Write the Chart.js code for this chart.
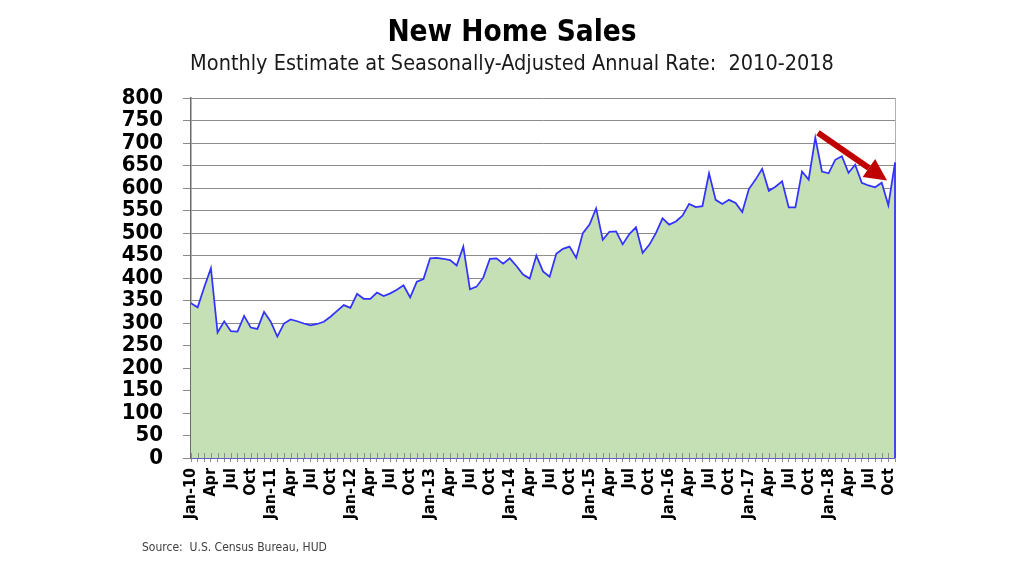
<!DOCTYPE html>
<html>
<head>
<meta charset="utf-8">
<title>New Home Sales</title>
<script src="https://cdn.jsdelivr.net/npm/chart.js@4.4.1/dist/chart.umd.min.js"></script>
<style>
  html, body { margin: 0; padding: 0; background: #fff; }
  #wrap { width: 1024px; height: 576px; position: relative; }
</style>
</head>
<body>
<div id="wrap"><canvas id="salesChart"></canvas></div>
<script>
// Category axis: Jan-10 .. Nov-18 (monthly)
const years = ['10', '11', '12', '13', '14', '15', '16', '17', '18'];
const monthNames = ['Jan', 'Feb', 'Mar', 'Apr', 'May', 'Jun', 'Jul', 'Aug', 'Sep', 'Oct', 'Nov', 'Dec'];
const monthsInLastYear = 11;

// Tick labels shown under the axis (every quarter)
const labelledMonths = ['Jan', 'Apr', 'Jul', 'Oct'];

// New home sales, thousands, SAAR
const sales2010 = [344, 335, 380, 422, 279, 304, 282, 281, 316, 290, 287, 325];
const sales2011 = [303, 270, 299, 308, 304, 299, 295, 298, 303, 314, 327, 340];
const sales2012 = [334, 365, 354, 354, 368, 360, 366, 374, 384, 357, 392, 398];
const sales2013 = [444, 445, 443, 440, 428, 470, 375, 381, 401, 443, 444, 432];
const sales2014 = [444, 427, 408, 399, 450, 415, 403, 454, 465, 470, 445, 500];
const sales2015 = [519, 555, 485, 503, 504, 475, 498, 513, 456, 474, 500, 533];
const sales2016 = [519, 526, 539, 565, 558, 560, 633, 574, 565, 574, 567, 547];
const sales2017 = [598, 619, 643, 594, 603, 615, 557, 557, 637, 619, 712, 637];
const sales2018 = [633, 663, 671, 634, 652, 612, 606, 602, 612, 562, 657];

const yTicks = { min: 0, max: 800, step: 50 };

// Trend arrow, in data units (x = month index, y = sales)
const trendArrow = { fromX: 94.4, fromY: 723, toX: 104.8, toY: 617 };

const categories = [];
years.forEach((yr, yi) => {
    const n = yi === years.length - 1 ? monthsInLastYear : 12;
    for (let m = 0; m < n; m++) {
        categories.push({ month: monthNames[m], year: yr });
    }
});
const labels = categories.map(c => c.month + '-' + c.year);
const sales = [].concat(sales2010, sales2011, sales2012, sales2013, sales2014,
    sales2015, sales2016, sales2017, sales2018);

const FONT = 'DejaVu Sans Condensed';
Chart.defaults.font.family = FONT;

// blue outline of the area down to the baseline + ticks crossing the x axis
const areaEdges = {
    id: 'areaEdges',
    afterDatasetsDraw(chart) {
        const { ctx, scales } = chart;
        const meta = chart.getDatasetMeta(0);
        const last = meta.data[meta.data.length - 1];
        const base = scales.y.getPixelForValue(0);
        ctx.save();
        ctx.strokeStyle = '#8c8c8c';
        ctx.lineWidth = 1;
        scales.x.ticks.forEach((t, i) => {
            const x = Math.round(scales.x.getPixelForTick(i)) + 0.5;
            ctx.beginPath();
            ctx.moveTo(x, base - 5);
            ctx.lineTo(x, base);
            ctx.stroke();
        });
        ctx.strokeStyle = '#3333ff';
        ctx.lineWidth = 1.75;
        ctx.beginPath();
        ctx.moveTo(last.x, last.y);
        ctx.lineTo(last.x, base);
        ctx.stroke();
        ctx.restore();
    }
};

const arrowPlugin = {
    id: 'trendArrow',
    afterDatasetsDraw(chart) {
        const { ctx, scales } = chart;
        const x1 = scales.x.getPixelForValue(trendArrow.fromX);
        const y1 = scales.y.getPixelForValue(trendArrow.fromY);
        const x2 = scales.x.getPixelForValue(trendArrow.toX);
        const y2 = scales.y.getPixelForValue(trendArrow.toY);
        const ang = Math.atan2(y2 - y1, x2 - x1);
        const headLen = 22, headW = 11;
        const bx = x2 - headLen * Math.cos(ang);
        const by = y2 - headLen * Math.sin(ang);
        ctx.save();
        ctx.strokeStyle = '#c00000';
        ctx.fillStyle = '#c00000';
        ctx.lineWidth = 6;
        ctx.beginPath();
        ctx.moveTo(x1, y1);
        ctx.lineTo(bx, by);
        ctx.stroke();
        ctx.beginPath();
        ctx.moveTo(x2, y2);
        ctx.lineTo(bx + headW * Math.sin(ang), by - headW * Math.cos(ang));
        ctx.lineTo(bx - headW * Math.sin(ang), by + headW * Math.cos(ang));
        ctx.closePath();
        ctx.fill();
        ctx.restore();
    }
};

const sourceNote = {
    id: 'sourceNote',
    afterDraw(chart) {
        const { ctx } = chart;
        ctx.save();
        ctx.font = '12px "' + FONT + '"';
        ctx.fillStyle = '#404040';
        ctx.textBaseline = 'middle';
        ctx.textAlign = 'left';
        ctx.fillText('Source:  U.S. Census Bureau, HUD', 142, 548);
        ctx.restore();
    }
};

const ctx = document.getElementById('salesChart');
new Chart(ctx, {
    type: 'line',
    data: {
        labels: labels,
        datasets: [{
            label: 'New Home Sales',
            data: sales,
            borderColor: '#3333ff',
            backgroundColor: '#c5e0b4',
            borderWidth: 1.75,
            fill: 'origin',
            tension: 0,
            pointRadius: 0
        }]
    },
    options: {
        responsive: true,
        maintainAspectRatio: false,
        animation: false,
        layout: { padding: 0 },
        scales: {
            x: {
                ticks: {
                    autoSkip: false,
                    maxRotation: 90,
                    minRotation: 90,
                    padding: 6,
                    color: '#000',
                    font: { size: 16, weight: 'bold' },
                    callback: function(value, index) {
                        const c = categories[index];
                        if (!labelledMonths.includes(c.month)) return '';
                        return c.month === 'Jan' ? c.month + '-' + c.year : c.month;
                    }
                },
                grid: { drawOnChartArea: false, tickLength: 4, color: '#8c8c8c' },
                border: { color: '#3333ff', width: 1.5 },
                afterFit: function(scale) { scale.height = 118; }
            },
            y: {
                min: yTicks.min,
                max: yTicks.max,
                ticks: {
                    stepSize: yTicks.step,
                    autoSkip: false,
                    padding: 20,
                    color: '#000',
                    font: { size: 22, weight: 'bold' }
                },
                grid: { color: '#8c8c8c', lineWidth: 1, tickLength: 8 },
                border: { color: '#6b6b6b', width: 1.5 },
                afterFit: function(scale) { scale.width = 191; }
            },
            // empty right-hand axis: gives the plot frame and the right margin
            yRight: {
                position: 'right',
                min: yTicks.min,
                max: yTicks.max,
                ticks: { display: false },
                grid: { drawOnChartArea: false, drawTicks: false },
                border: { color: '#b0b0b0', width: 1 },
                afterFit: function(scale) { scale.width = 129; }
            }
        },
        plugins: {
            legend: { display: false },
            tooltip: { enabled: false },
            title: {
                display: true,
                text: 'New Home Sales',
                color: '#000',
                font: { size: 29.5, weight: 'bold' },
                padding: { top: 16, bottom: 0 }
            },
            subtitle: {
                display: true,
                text: 'Monthly Estimate at Seasonally-Adjusted Annual Rate:  2010-2018',
                color: '#1a1a1a',
                font: { size: 21.5, weight: 'normal' },
                padding: { top: 0, bottom: 21 }
            }
        }
    },
    plugins: [areaEdges, arrowPlugin, sourceNote]
});
</script>
</body>
</html>
